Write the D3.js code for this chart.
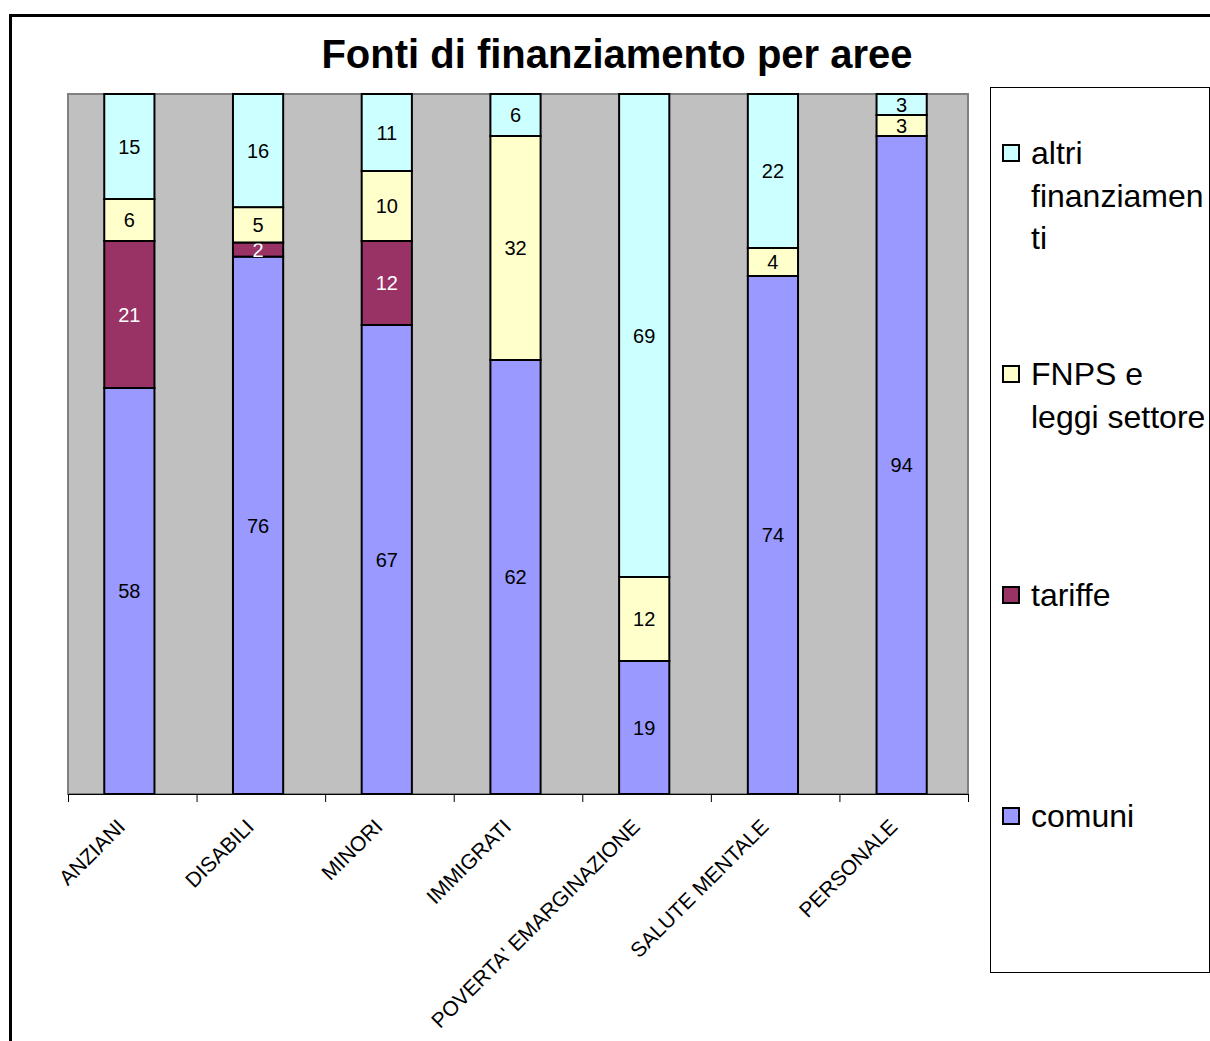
<!DOCTYPE html>
<html>
<head>
<meta charset="utf-8">
<script src="https://cdn.jsdelivr.net/npm/d3@7"></script>
<style>
	body { margin: 0; background: #fff; }
	svg { display: block; font-family: "Liberation Sans", Arial, sans-serif; }
</style>
</head>
<body>
<div id="chart"></div>
<script>

var aree = ["ANZIANI", "DISABILI", "MINORI", "IMMIGRATI", "POVERTA' EMARGINAZIONE", "SALUTE MENTALE", "PERSONALE"];

var seriesNames = ["comuni", "tariffe", "FNPS e leggi settore", "altri finanziamenti"];
var seriesColors = ["#9999FF", "#993366", "#FFFFCC", "#CCFFFF"];

// percentuali
var comuni  = [58, 76, 67, 62, 19, 74, 94];
var tariffe = [21,  2, 12,  0,  0,  0,  0];
var fnps    = [ 6,  5, 10, 32, 12,  4,  3];
var altri   = [15, 16, 11,  6, 69, 22,  3];

// legenda: voci dall'alto, testo spezzato come nell'originale
var legendOrder = [3, 2, 1, 0];
var legendLines = [["altri", "finanziamen", "ti"], ["FNPS e", "leggi settore"], ["tariffe"], ["comuni"]];

var W = 1210, H = 1041;
var plot = {left: 68, right: 968, top: 94, bottom: 794};

var rows = aree.map(function(a, i){
	var r = {area: a};
	r[seriesNames[0]] = comuni[i];
	r[seriesNames[1]] = tariffe[i];
	r[seriesNames[2]] = fnps[i];
	r[seriesNames[3]] = altri[i];
	return r;
});

var svg = d3.select("#chart").append("svg")
	.attr("width", W).attr("height", H);

// cornice esterna
svg.append("rect")
	.attr("x", 10.5).attr("y", 15.5)
	.attr("width", 1400).attr("height", 1200)
	.attr("fill", "none")
	.attr("stroke", "#000")
	.attr("stroke-width", 3);

svg.append("text")
	.attr("x", 617).attr("y", 68)
	.attr("text-anchor", "middle")
	.style("font-size", "40px")
	.style("font-weight", "bold")
	.text("Fonti di finanziamento per aree");

var x = d3.scaleBand()
	.domain(aree)
	.range([plot.left - 3, plot.right - 2])
	.paddingInner(0.61)
	.paddingOuter(0.305);

var y = d3.scaleLinear()
	.domain([0, 1])
	.range([plot.bottom, plot.top]);

var stack = d3.stack()
	.keys(seriesNames)
	.offset(d3.stackOffsetExpand);

var layers = stack(rows);

svg.append("rect")
	.attr("x", plot.left).attr("y", plot.top)
	.attr("width", plot.right - plot.left)
	.attr("height", plot.bottom - plot.top)
	.attr("fill", "#C0C0C0")
	.attr("stroke", "#808080")
	.attr("stroke-width", 2);

var g = svg.append("g");

var layer = g.selectAll("g.layer")
	.data(layers)
	.enter().append("g")
	.attr("class", "layer")
	.attr("fill", function(d, i){ return seriesColors[i]; });

layer.selectAll("rect")
	.data(function(d){ return d.filter(function(s){ return s[1] - s[0] > 0; }); })
	.enter().append("rect")
	.attr("x", function(d){ return x(d.data.area); })
	.attr("width", x.bandwidth())
	.attr("y", function(d){ return y(d[1]); })
	.attr("height", function(d){ return y(d[0]) - y(d[1]); })
	.attr("stroke", "#000")
	.attr("stroke-width", 2);

layer.selectAll("text")
	.data(function(d){
		return d.filter(function(s){ return s[1] - s[0] > 0; })
			.map(function(s){ s.key = d.key; return s; });
	})
	.enter().append("text")
	.attr("x", function(d){ return x(d.data.area) + x.bandwidth() / 2; })
	.attr("y", function(d){ return (y(d[0]) + y(d[1])) / 2; })
	.attr("dy", "0.36em")
	.attr("text-anchor", "middle")
	.attr("fill", function(d){ return d.key == "tariffe" ? "#fff" : "#000"; })
	.style("font-size", "20px")
	.text(function(d){ return d.data[d.key]; });

// asse x con tacche ai confini delle categorie
var xEdge = d3.scaleLinear().domain([0, aree.length]).range([plot.left, plot.right]);

svg.append("g")
	.attr("transform", "translate(0," + plot.bottom + ")")
	.call(d3.axisBottom(xEdge)
		.tickValues(d3.range(aree.length + 1))
		.tickSize(8)
		.tickSizeOuter(0)
		.tickFormat(""))
	.call(function(a){
		a.select(".domain").attr("stroke", "#000");
		a.selectAll(".tick line").attr("stroke", "#000");
	});

svg.append("g").selectAll("text")
	.data(aree)
	.enter().append("text")
	.attr("transform", function(d){
		return "translate(" + (x(d) + x.bandwidth() / 2 - 3) + "," + 828 + ") rotate(-45)";
	})
	.attr("text-anchor", "end")
	.style("font-size", "21px")
	.text(function(d){ return d; });

// legenda
var legend = svg.append("g");

legend.append("rect")
	.attr("x", 990.5).attr("y", 87.5)
	.attr("width", 219).attr("height", 885)
	.attr("fill", "#fff")
	.attr("stroke", "#000")
	.attr("stroke-width", 1);

var item = legend.selectAll("g.item")
	.data(legendOrder)
	.enter().append("g")
	.attr("class", "item")
	.attr("transform", function(d, i){ return "translate(0," + (153 + i * 221) + ")"; });

item.append("rect")
	.attr("x", 1003).attr("y", -8)
	.attr("width", 16).attr("height", 16)
	.attr("fill", function(d){ return seriesColors[d]; })
	.attr("stroke", "#000")
	.attr("stroke-width", 2);

item.append("text")
	.style("font-size", "32px")
	.selectAll("tspan")
	.data(function(d, i){ return legendLines[i]; })
	.enter().append("tspan")
	.attr("x", 1031)
	.attr("y", function(d, j){ return j * 42.5; })
	.attr("dy", "0.35em")
	.text(function(d){ return d; });

</script>
</body>
</html>
